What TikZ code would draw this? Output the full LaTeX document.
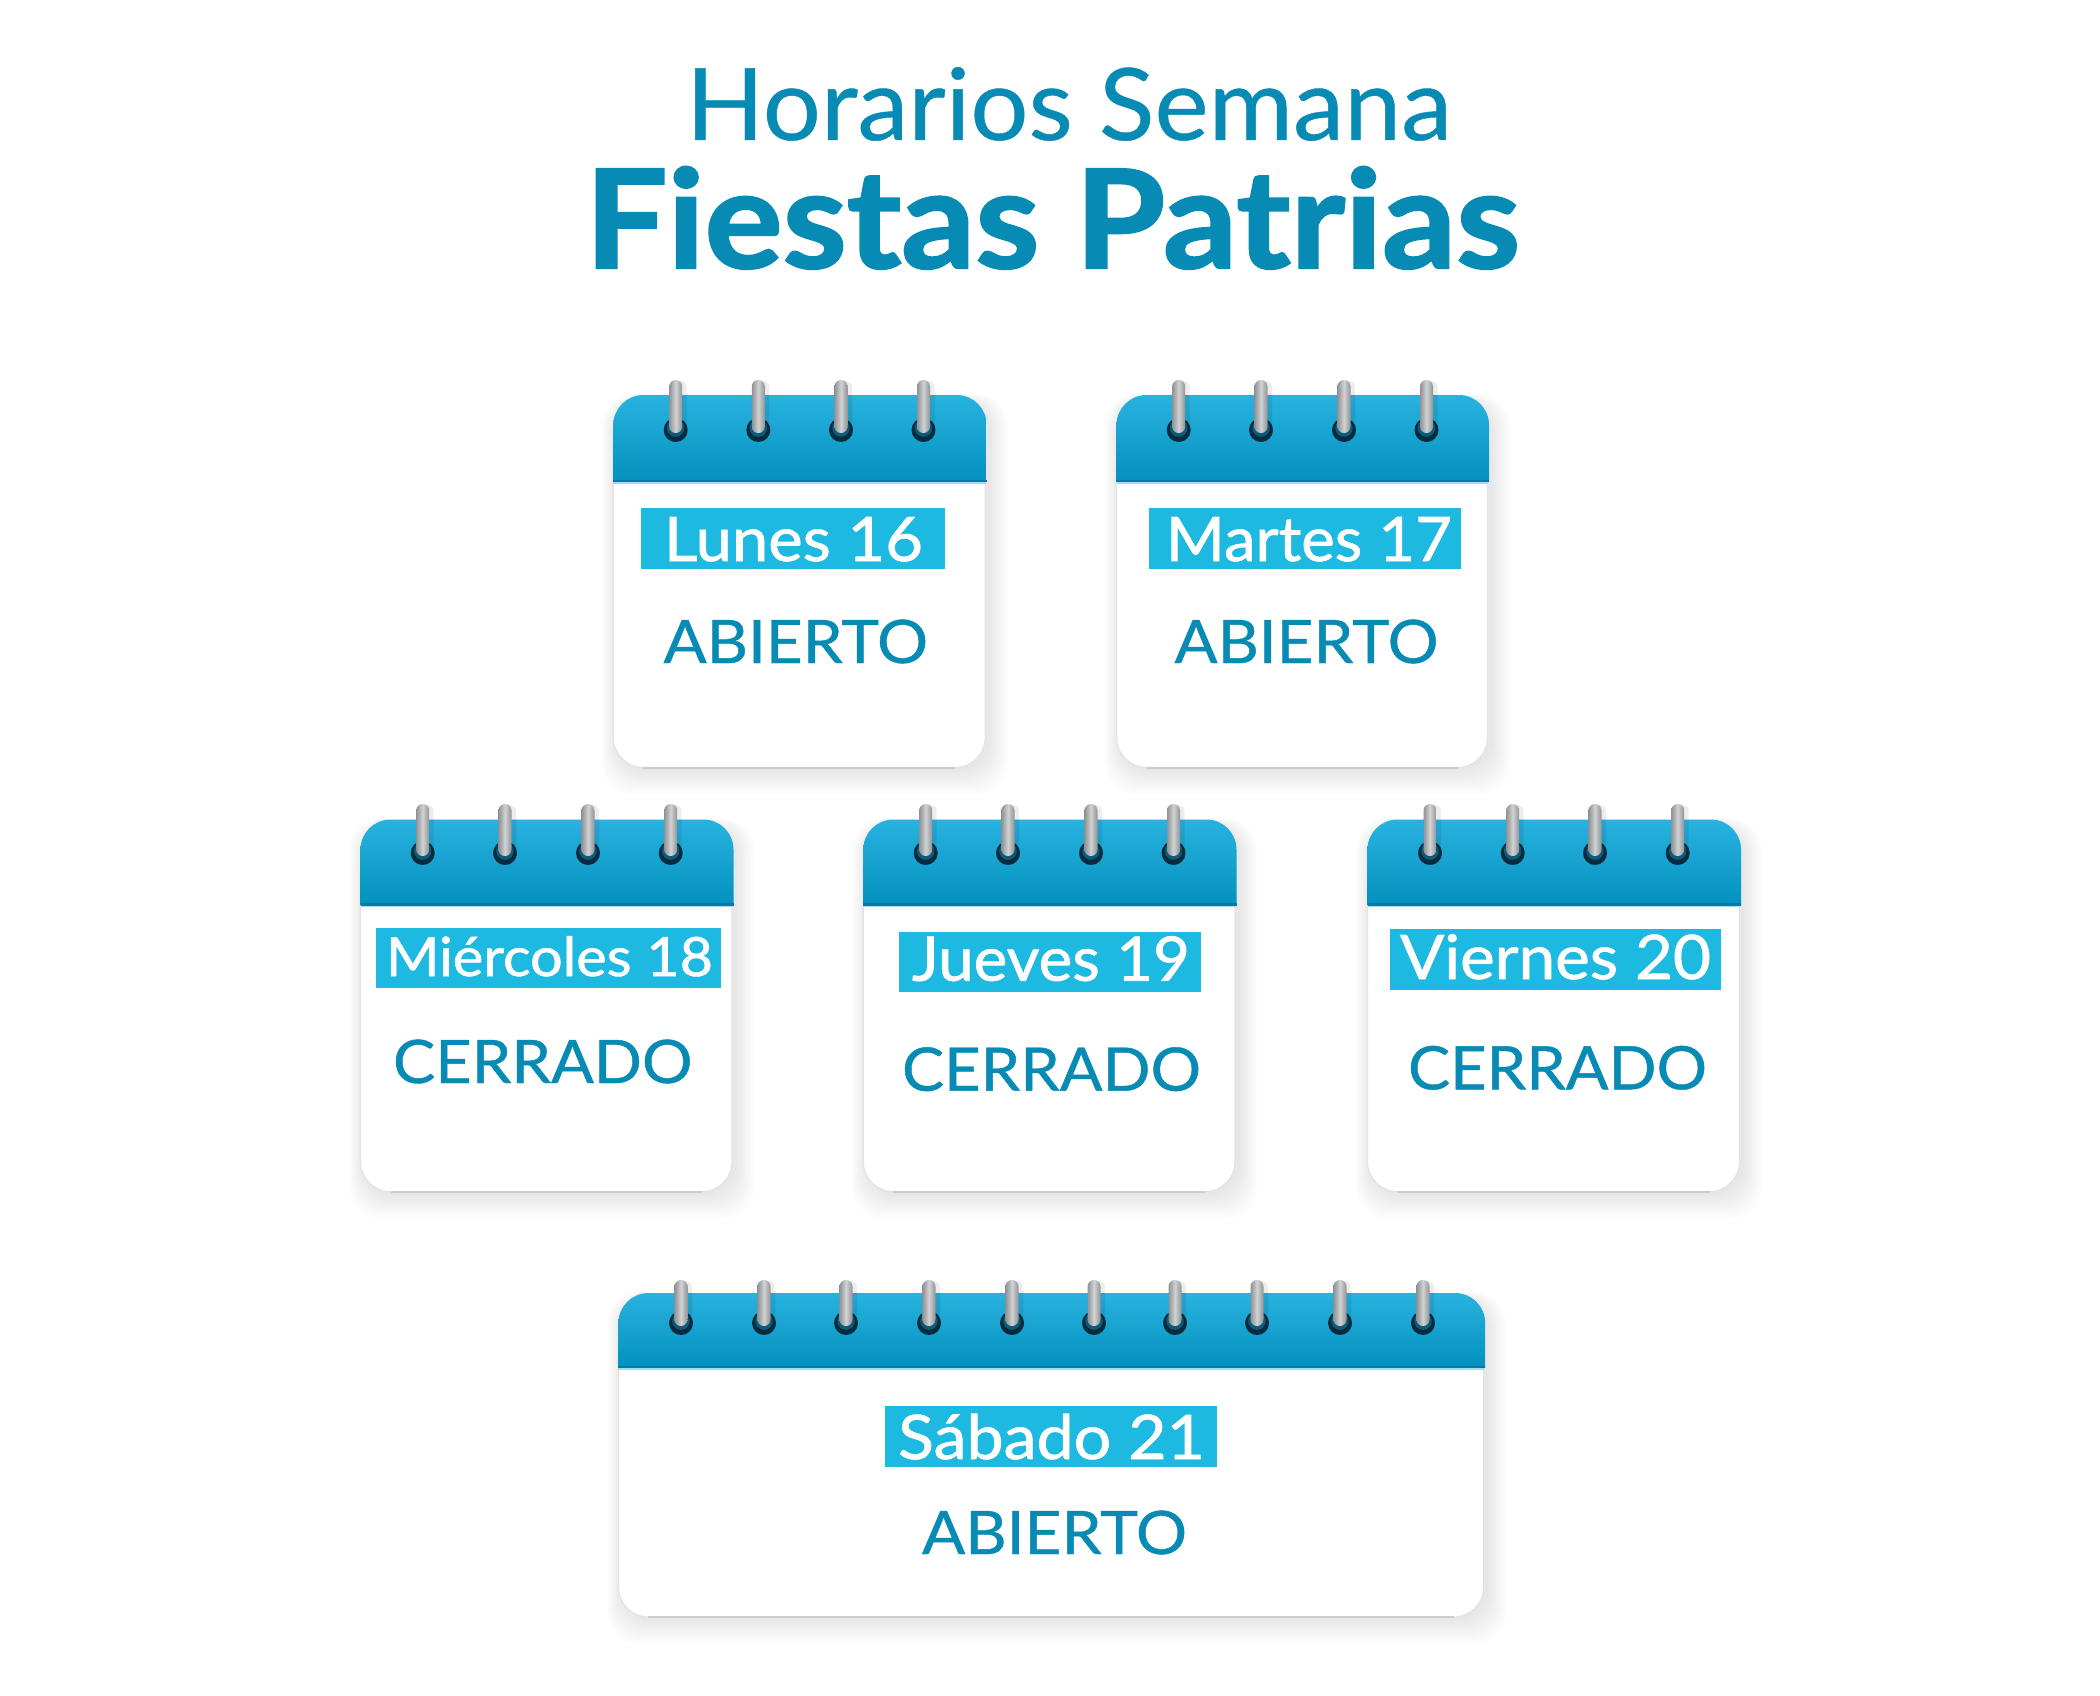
\documentclass[tikz,border=0pt]{standalone}
\usepackage{fontspec}
\usepackage{graphicx}
\setmainfont{Lato}
\newfontfamily\dayface[FakeBold=1.1]{Lato}
\newfontfamily\stateface[FakeBold=0.7]{Lato}
\newfontfamily\titleface[FakeBold=0.4]{Lato}
\newfontfamily\heavyface[FakeBold=1.6]{Lato Bold}
\definecolor{txtblue}{HTML}{078BB5}
\definecolor{boxblue}{HTML}{1DB9E1}
\definecolor{headtop}{HTML}{28B2DF}
\definecolor{headbot}{HTML}{0491BE}
\definecolor{headline}{HTML}{037DA6}
\definecolor{headlight}{HTML}{A6DCEC}
\definecolor{holedark}{HTML}{062B3D}
\definecolor{holemid}{HTML}{0B5C7C}
\definecolor{ringedge}{HTML}{8F9396}
\definecolor{ringmid}{HTML}{D0D2D3}
% width-fitted text: #1 target width in px, #2 font switch, #3 text
\newsavebox{\fitbox}
\newcommand{\fitted}[3]{\sbox{\fitbox}{#2#3}\pgfmathsetmacro{\fitx}{#1*0.5/\wd\fitbox}\scalebox{\fitx}[1]{\usebox{\fitbox}}}
\newcommand{\dayf}{\dayface\fontsize{30.7}{36}\selectfont}
\newcommand{\statef}{\stateface\fontsize{30}{36}\selectfont}
\tikzset{
  lbl/.style={anchor=base west,inner sep=0pt,outer sep=0pt},
  dayfont/.style={lbl,text=white,xshift=-1.5pt},
  statefont/.style={lbl,text=txtblue,xshift=-0.5pt},
  titlefont/.style={lbl,text=txtblue,xshift=-2pt}
}
% #1 L, #2 R, #3 T, #4 header bottom, #5 B, #6 ring top, #7 hole y, #8 ring xs
\newcommand{\calendarsheet}[8]{%
  \foreach \s in {1,...,12}{
    \fill[black,opacity=0.0075,rounded corners=16pt]
      (#1-\s*1.2+3,#3+6-\s*0.6) rectangle (#2+\s*1.6+2,#5+\s*2.2+1);
  }
  \fill[white,draw=black!11,line width=0.6pt,rounded corners=15pt] (#1,#3+20) rectangle (#2-1.5,#5);
  \draw[black!20,line width=1pt] (#1+30,#5) -- (#2-31.5,#5);
  \shade[top color=headtop,bottom color=headbot]
    (#1,#4) [rounded corners=15pt] -- (#1,#3) -- (#2,#3) [sharp corners] -- (#2,#4) -- cycle;
  \draw[headline,line width=1.3pt] (#1,#4-1) -- (#2,#4-1);
  \draw[headlight,line width=0.7pt] (#1,#4+0.8) -- (#2-1,#4+0.8);
  \foreach \rx in {#8}{
    \fill[holedark] (\rx,#7) circle[radius=6pt];
    \fill[holemid] (\rx,#7-2) circle[radius=4.4pt];
    \fill[black,opacity=0.07,rounded corners=3pt] (\rx-4,#6+1) rectangle (\rx+11,#7);
    \shade[left color=ringedge,right color=ringedge,middle color=ringmid,rounded corners=3.2pt]
      (\rx-6.5,#6) rectangle (\rx+6.5,#7+3);
  }
}
% #1 left, #2 right, #3 top, #4 bottom
\newcommand{\daybox}[4]{\fill[boxblue] (#1,#3) rectangle (#2,#4);}
\begin{document}
\begin{tikzpicture}[x=0.5pt,y=-0.5pt]
\useasboundingbox (0,0) rectangle (2100,1696);
\fill[white] (0,0) rectangle (2100,1696);

% title
\node[titlefont] (title1) at (690,140) {\fitted{766}{\titleface\fontsize{50}{60}\selectfont}{Horarios Semana}};
\node[titlefont] (title2) at (589,268) {\fitted{935}{\heavyface\fontsize{68.4}{80}\selectfont}{Fiestas Patrias}};

% Lunes 16
\calendarsheet{613.3}{986.7}{395}{482}{767.5}{380}{430}{675.7,758.3,841,923.5}
\daybox{641}{945}{508}{569}
\node[dayfont] (d1) at (667,561) {\fitted{259}{\dayf}{Lunes 16}};
\node[statefont] (s1) at (664.5,663) {\fitted{264.5}{\statef}{ABIERTO}};

% Martes 17
\calendarsheet{1116.5}{1489}{395}{482}{767.5}{380}{430}{1178.7,1261,1344,1426.5}
\daybox{1148.5}{1461}{508}{569}
\node[dayfont] (d2) at (1169,561) {\fitted{286}{\dayf}{Martes 17}};
\node[statefont] (s2) at (1175.5,663) {\fitted{264}{\statef}{ABIERTO}};

% Miércoles 18
\calendarsheet{360.5}{733.5}{819.5}{905.7}{1191.7}{804}{853}{422.7,505,588,670.7}
\daybox{376}{720.5}{927.7}{988}
\node[dayfont] (d3) at (389,976) {\fitted{327}{\dayface\fontsize{27}{32}\selectfont}{Miércoles 18}};
\node[statefont] (s3) at (394,1083) {\fitted{299.5}{\statef}{CERRADO}};

% Jueves 19
\calendarsheet{863.3}{1236.5}{819.5}{905.7}{1191.7}{804}{853}{925.7,1008,1091,1173.5}
\daybox{899}{1200.5}{932}{992}
\node[dayfont] (d4) at (915,980.7) {\fitted{278}{\dayf}{Jueves 19}};
\node[statefont] (s4) at (903,1090.7) {\fitted{299}{\statef}{CERRADO}};

% Viernes 20
\calendarsheet{1367.5}{1741}{819.5}{905.7}{1191.7}{804}{853}{1430,1512.7,1595,1677.7}
\daybox{1390}{1721}{929}{989.7}
\node[dayfont] (d5) at (1403,979) {\fitted{311}{\dayf}{Viernes 20}};
\node[statefont] (s5) at (1409,1089.3) {\fitted{299}{\statef}{CERRADO}};

% Sábado 21
\calendarsheet{618.4}{1485.2}{1293}{1368}{1617}{1280}{1323}{681,764,846,929,1012,1094,1175,1257,1340,1423}
\daybox{885}{1217}{1406}{1467}
\node[dayfont] (d6) at (901,1459) {\fitted{307}{\dayf}{Sábado 21}};
\node[statefont] (s6) at (923,1554) {\fitted{265}{\statef}{ABIERTO}};
\end{tikzpicture}
\end{document}
